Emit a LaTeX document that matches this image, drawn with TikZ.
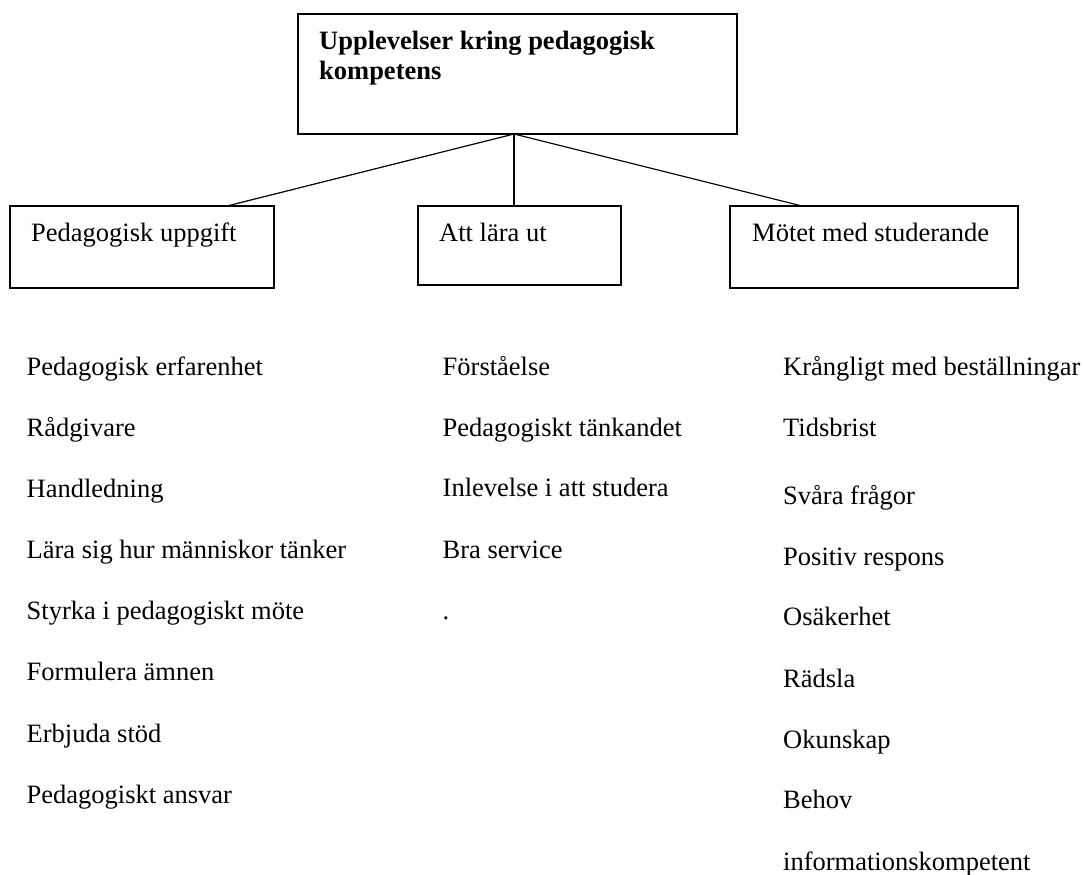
\documentclass[tikz,border=0pt]{standalone}
\usepackage{fontspec}
\setmainfont{Liberation Serif}
\begin{document}
\begin{tikzpicture}[x=1pt,y=-1pt,
  box/.style={draw, line width=1.2pt, inner sep=0pt, outer sep=0pt, anchor=north west},
  txt/.style={anchor=base west, inner sep=0pt, font=\fontsize{26.5}{30}\selectfont},
  link/.style={line width=1.2pt}]
\useasboundingbox (0,0) rectangle (1084,875);
% boxes
\node[box, minimum width=439pt, minimum height=120pt] (top) at (298,14) {};
\node[box, minimum width=264pt, minimum height=82pt] (lbox) at (10,206) {};
\node[box, minimum width=203pt, minimum height=79pt] (mbox) at (418,206) {};
\node[box, minimum width=288pt, minimum height=82pt] (rbox) at (730,206) {};
% box texts
\node[txt, align=left, font=\fontsize{26.5}{30}\selectfont\bfseries] (title) at (319,80) {Upplevelser kring pedagogisk\\kompetens};
\node[txt] (pu) at (31,241.5) {Pedagogisk uppgift};
\node[txt] (al) at (439,241.5) {Att lära ut};
\node[txt] (ms) at (752,241.5) {Mötet med studerande};
% connectors
\coordinate (j) at (514,134);
\coordinate (el) at (227,206);
\coordinate (em) at (514,206);
\coordinate (er) at (802,206);
\draw[link] (el) -- (j) -- (er);
\draw[link] (j) -- (em);
% lists
\foreach \y/\t [count=\i] in {375/Pedagogisk erfarenhet, 436/Rådgivare, 497/Handledning, 558/Lära sig hur människor tänker, 619/Styrka i pedagogiskt möte, 680/Formulera ämnen, 742/Erbjuda stöd, 803/Pedagogiskt ansvar}
  \node[txt] (l\i) at (26.5,\y) {\t};
\foreach \y/\t [count=\i] in {375/Förståelse, 436/Pedagogiskt tänkandet, 496/Inlevelse i att studera, 558/Bra service, 619/.}
  \node[txt] (m\i) at (442.5,\y) {\t};
\foreach \y/\t [count=\i] in {375/Krångligt med beställningar, 436/Tidsbrist, 504/Svåra frågor, 565/Positiv respons, 625/Osäkerhet, 687/Rädsla, 748/Okunskap, 808/Behov, 870/informationskompetent}
  \node[txt] (r\i) at (783,\y) {\t};
\end{tikzpicture}
\end{document}
